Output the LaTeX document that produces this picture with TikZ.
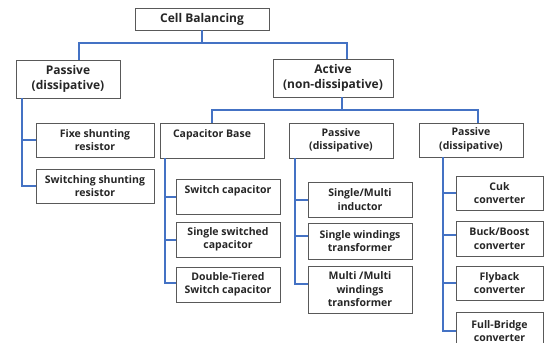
\documentclass[tikz,border=0pt]{standalone}
\usepackage{fontspec}
\setmainfont{Open Sans}
\definecolor{linkblue}{HTML}{4472C4}
\definecolor{boxline}{HTML}{595959}
\definecolor{ink}{HTML}{262626}
\tikzset{
  box/.style={draw=boxline, line width=0.9pt, fill=white, inner sep=1pt,
    align=center, text=ink,
    font=\bfseries\fontsize{10.5}{13.5}\selectfont},
  topbox/.style={box, font=\bfseries\fontsize{12}{15}\selectfont},
  link/.style={draw=linkblue, line width=2pt},
}
\newcommand{\boxat}[7][]{% style, name, cx, cy, width, height, text
  \node[box, #1, minimum width=#5pt, minimum height=#6pt] (#2) at (#3pt,-#4pt) {#7};}
\begin{document}
\begin{tikzpicture}[x=1pt,y=1pt]
\useasboundingbox (0,0) rectangle (544,-343);

% tree boxes
\boxat[topbox]{cb}{202}{19}{134}{22}{Cell Balancing}
\boxat[topbox]{passive}{68}{79}{104}{38}{Passive\\(dissipative)}
\boxat[topbox]{active}{333}{78}{120}{38}{Active\\(non-dissipative)}

\boxat{fixe}{95}{140}{118}{34}{Fixe shunting\\resistor}
\boxat{swsh}{95}{186}{118}{34}{Switching shunting\\resistor}

\boxat{capbase}{212}{140.5}{104}{35}{Capacitor Base\\\mbox{}}
\boxat{midpas}{341}{140.5}{104}{35}{Passive\\(dissipative)}
\boxat{rightpas}{471}{140}{104}{34}{Passive\\(dissipative)}

\boxat{swcap}{228}{196.5}{104}{35}{Switch capacitor\\\mbox{}}
\boxat{sglsw}{228}{239.5}{104}{35}{Single switched\\capacitor}
\boxat{dbl}{228}{284.5}{104}{35}{Double-Tiered\\Switch capacitor}

\boxat{sminduct}{360}{199.5}{104}{35}{Single/Multi\\inductor}
\boxat{swind}{360}{241}{104}{36}{Single windings\\transformer}
\boxat{mmw}{360}{289.5}{104}{47}{Multi /Multi\\windings\\transformer}

\boxat{cuk}{499.5}{193}{87}{34}{Cuk\\converter}
\boxat{buck}{499.5}{238.5}{87}{35}{Buck/Boost\\converter}
\boxat{fly}{499.5}{283}{87}{34}{Flyback\\converter}
\boxat{fb}{499.5}{331}{87}{38}{Full-Bridge\\converter}

% first level
\coordinate (hub1) at ([yshift=-13]cb.south);
\coordinate (pa) at ([xshift=11]passive.north);
\coordinate (ac) at ([xshift=14]active.north);
\draw[link] (cb.south) -- (hub1);
\draw[link] (pa) |- (hub1) -| (ac);

% passive branch
\coordinate (pl) at ([xshift=6]passive.south west);
\draw[link] (pl) |- (swsh.west);
\draw[link] (pl |- fixe.west) -- (fixe.west);

% active branch
\coordinate (av) at ([xshift=9]active.south);
\coordinate (hub2) at ([yshift=-13]av);
\coordinate (rp) at ([xshift=7]rightpas.north);
\draw[link] (av) -- (hub2);
\draw[link] (capbase.north) |- (hub2) -| (rp);

% capacitor base group
\coordinate (cl) at ([xshift=5]capbase.south west);
\draw[link] (cl) |- ([yshift=1.5]dbl.west);
\draw[link] (cl |- swcap.west) -- (swcap.west);
\draw[link] (cl |- sglsw.west) -- (sglsw.west);

% inductor / transformer group
\coordinate (ml) at ([xshift=6]midpas.south west);
\draw[link] (ml) |- ([yshift=6]mmw.west);
\draw[link] (ml |- sminduct.west) -- (sminduct.west);
\coordinate (swj) at ([yshift=5]swind.west);
\draw[link] (ml |- swj) -- (swj);

% converter group
\coordinate (rl) at ([xshift=24]rightpas.south west);
\draw[link] (rl) |- (fb.west);
\draw[link] (rl |- cuk.west) -- (cuk.west);
\coordinate (bkj) at ([yshift=4]buck.west);
\draw[link] (rl |- bkj) -- (bkj);
\draw[link] (rl |- fly.west) -- (fly.west);
\end{tikzpicture}
\end{document}
